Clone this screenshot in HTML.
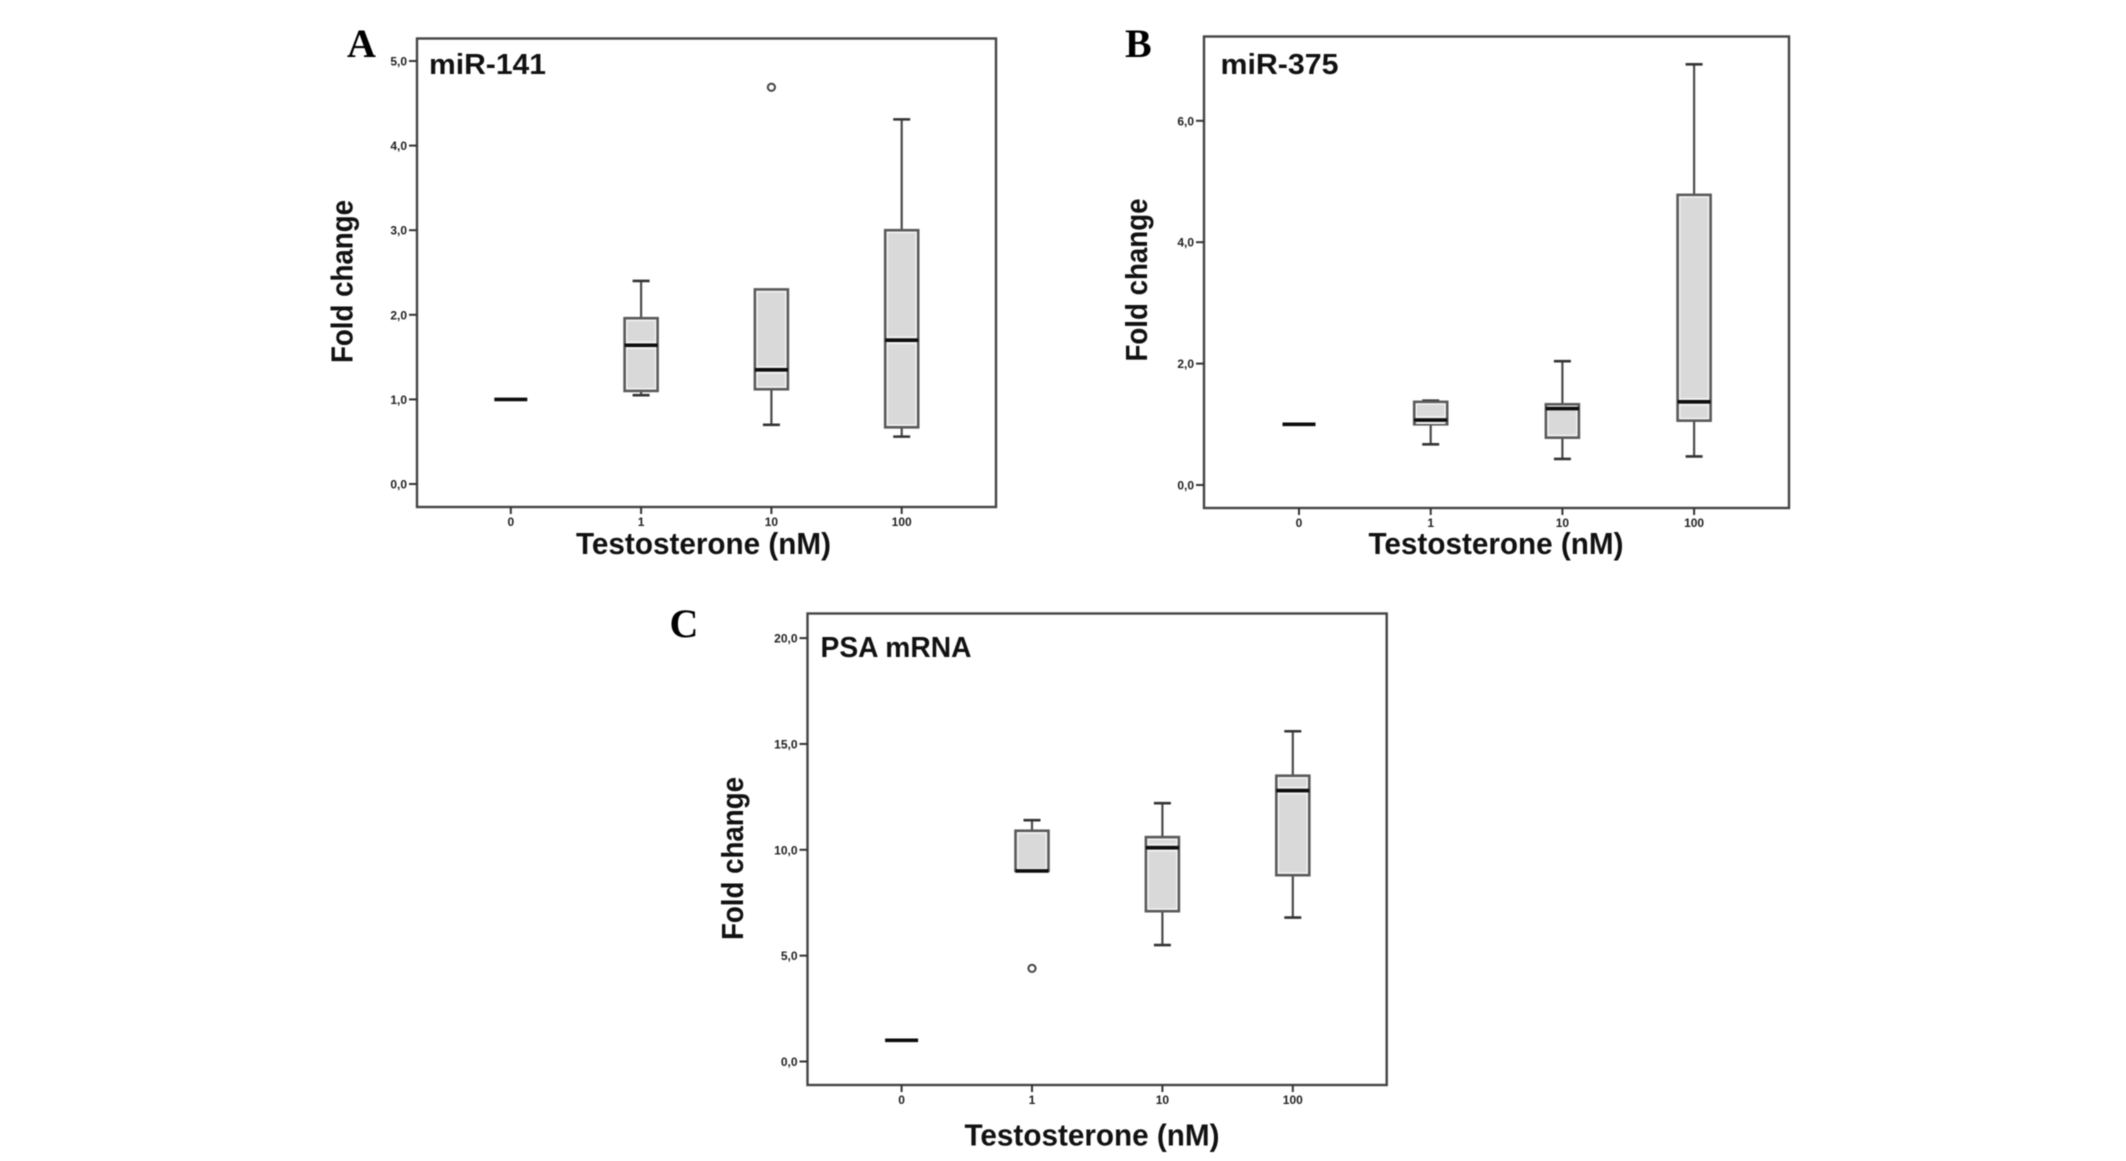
<!DOCTYPE html>
<html lang="en">
<head>
<meta charset="utf-8">
<title>Fold change boxplots</title>
<style>
html,body{margin:0;padding:0;background:#fff;width:2126px;height:1161px;overflow:hidden}
svg{display:block;filter:blur(0.6px)}
text{font-family:"Liberation Sans",sans-serif;fill:#111}
.tick{font-size:12px;font-weight:700;fill:#222}
.title{font-size:29px;font-weight:700}
.axis{font-size:31px;font-weight:700}
.letter{font-family:"Liberation Serif",serif;font-size:40px;font-weight:700;fill:#000}
</style>
</head>
<body>
<svg id="chart" xmlns="http://www.w3.org/2000/svg" width="2126" height="1161" viewBox="0 0 2126 1161">
  <text class="letter" x="347" y="57">A</text>
  <text class="letter" x="1125" y="57">B</text>
  <text class="letter" x="669.5" y="637">C</text>

  <text class="title" x="429" y="74" textLength="117" lengthAdjust="spacingAndGlyphs">miR-141</text>
  <text class="title" x="1220.5" y="74" textLength="118" lengthAdjust="spacingAndGlyphs">miR-375</text>
  <text class="title" x="820.5" y="657" textLength="151" lengthAdjust="spacingAndGlyphs">PSA mRNA</text>

  <text class="axis" x="576" y="554" textLength="255" lengthAdjust="spacingAndGlyphs">Testosterone (nM)</text>
  <text class="axis" x="1368.5" y="554" textLength="255" lengthAdjust="spacingAndGlyphs">Testosterone (nM)</text>
  <text class="axis" x="964.5" y="1145.5" textLength="255" lengthAdjust="spacingAndGlyphs">Testosterone (nM)</text>

  <text class="axis" transform="translate(352.5,363) rotate(-90)" textLength="163" lengthAdjust="spacingAndGlyphs">Fold change</text>
  <text class="axis" transform="translate(1147,361.5) rotate(-90)" textLength="163" lengthAdjust="spacingAndGlyphs">Fold change</text>
  <text class="axis" transform="translate(743,940) rotate(-90)" textLength="163" lengthAdjust="spacingAndGlyphs">Fold change</text>
</svg>
<script>
const categories = ['0', '1', '10', '100'];

const aTicks = [0, 1, 2, 3, 4, 5];
const aTickLabels = ['0,0', '1,0', '2,0', '3,0', '4,0', '5,0'];
const aLow = [1, 1.05, 0.7, 0.56];
const aQ1 = [1, 1.1, 1.12, 0.67];
const aMedian = [1, 1.64, 1.35, 1.7];
const aQ3 = [1, 1.96, 2.3, 3.0];
const aHigh = [1, 2.4, 2.3, 4.31];
const aOutliers = [null, null, 4.69, null];

const bTicks = [0, 2, 4, 6];
const bTickLabels = ['0,0', '2,0', '4,0', '6,0'];
const bLow = [1, 0.67, 0.43, 0.47];
const bQ1 = [1, 1.0, 0.78, 1.06];
const bMedian = [1, 1.07, 1.26, 1.37];
const bQ3 = [1, 1.37, 1.33, 4.78];
const bHigh = [1, 1.39, 2.04, 6.93];
const bOutliers = [null, null, null, null];

const cTicks = [0, 5, 10, 15, 20];
const cTickLabels = ['0,0', '5,0', '10,0', '15,0', '20,0'];
const cLow = [1, 9.0, 5.5, 6.8];
const cQ1 = [1, 9.0, 7.1, 8.8];
const cMedian = [1, 9.0, 10.1, 12.8];
const cQ3 = [1, 10.9, 10.6, 13.5];
const cHigh = [1, 11.4, 12.2, 15.6];
const cOutliers = [null, 4.4, null, null];

const svg = document.getElementById('chart');
const NS = 'http://www.w3.org/2000/svg';
const STROKE = '#4a4a4a';

function make(parent, tag, attrs) {
  const el = document.createElementNS(NS, tag);
  for (const k in attrs) el.setAttribute(k, attrs[k]);
  parent.appendChild(el);
  return el;
}

function drawPanel(id, frame, xFirst, xStep, yZero, yPerUnit, ticks, tickLabels, low, q1, median, q3, high, outliers) {
  const xScale = i => xFirst + i * xStep;
  const yScale = v => yZero - v * yPerUnit;
  const g = make(svg, 'g', {});
  
  

  const rect = make(g, 'rect', {x: frame.left, y: frame.top, width: frame.right - frame.left, height: frame.bottom - frame.top, fill: '#fff', stroke: '#444', 'stroke-width': 2.4});
  
  

  ticks.forEach((t, i) => {
    const y = yScale(t);
    const tick = make(g, 'line', {x1: frame.left - 8, x2: frame.left, y1: y, y2: y, stroke: '#333', 'stroke-width': 2});
    
    
    const label = make(g, 'text', {x: frame.left - 10, y: y + 4.5, 'text-anchor': 'end', class: 'tick'});
    label.textContent = tickLabels[i];
    
    
  });

  categories.forEach((c, i) => {
    const x = xScale(i);
    const tick = make(g, 'line', {x1: x, x2: x, y1: frame.bottom, y2: frame.bottom + 7, stroke: '#333', 'stroke-width': 2});
    
    
    const label = make(g, 'text', {x: x, y: frame.bottom + 19, 'text-anchor': 'middle', class: 'tick'});
    label.textContent = c;
    
    

    const box = make(g, 'g', {});
    
    
    const hw = 16.5;
    const capHw = 8.5;
    if (high[i] !== q3[i]) {
      make(box, 'line', {x1: x, x2: x, y1: yScale(high[i]), y2: yScale(q3[i]), stroke: STROKE, 'stroke-width': 2.2});
      make(box, 'line', {x1: x - capHw, x2: x + capHw, y1: yScale(high[i]), y2: yScale(high[i]), stroke: '#333', 'stroke-width': 2.6});
    }
    if (low[i] !== q1[i]) {
      make(box, 'line', {x1: x, x2: x, y1: yScale(q1[i]), y2: yScale(low[i]), stroke: STROKE, 'stroke-width': 2.2});
      make(box, 'line', {x1: x - capHw, x2: x + capHw, y1: yScale(low[i]), y2: yScale(low[i]), stroke: '#333', 'stroke-width': 2.6});
    }
    const top = yScale(q3[i]);
    const h = yScale(q1[i]) - top;
    if (h > 0) {
      make(box, 'rect', {x: x - hw, y: top, width: 2 * hw, height: h, fill: '#d9d9d9', stroke: '#5a5a5a', 'stroke-width': 2.6});
      if (h > 8) {
        make(box, 'rect', {x: x - hw + 2.2, y: top + 2.2, width: 2 * hw - 4.4, height: h - 4.4, fill: 'none', stroke: '#f4f4f4', 'stroke-width': 1.4});
      }
    }
    const my = yScale(median[i]);
    if (my - top > 6 && yScale(q1[i]) - my > 4) {
      make(box, 'line', {x1: x - hw + 2, x2: x + hw - 2, y1: my + 3.2, y2: my + 3.2, stroke: '#f4f4f4', 'stroke-width': 1.4});
      make(box, 'line', {x1: x - hw + 2, x2: x + hw - 2, y1: my - 3.2, y2: my - 3.2, stroke: '#f4f4f4', 'stroke-width': 1.4});
    }
    make(box, 'line', {x1: x - hw, x2: x + hw, y1: my, y2: my, stroke: '#0c0c0c', 'stroke-width': 3.6});

    if (outliers[i] !== null) {
      const dot = make(g, 'circle', {cx: x, cy: yScale(outliers[i]), r: 3.6, fill: '#fff', stroke: '#444', 'stroke-width': 2});
      
      
    }
  });

  // keep text titles above the frame fill
  svg.querySelectorAll('.title,.axis,.letter').forEach(t => svg.appendChild(t));
}

drawPanel('a', {left: 417, right: 996, top: 38.5, bottom: 507}, 510.8, 130.3, 484, 84.6, aTicks, aTickLabels, aLow, aQ1, aMedian, aQ3, aHigh, aOutliers);
drawPanel('b', {left: 1204, right: 1789, top: 36.5, bottom: 508}, 1299, 131.7, 485, 60.7, bTicks, bTickLabels, bLow, bQ1, bMedian, bQ3, bHigh, bOutliers);
drawPanel('c', {left: 807.5, right: 1386.7, top: 613.5, bottom: 1085}, 901.6, 130.4, 1061.5, 21.17, cTicks, cTickLabels, cLow, cQ1, cMedian, cQ3, cHigh, cOutliers);
</script>
</body>
</html>
